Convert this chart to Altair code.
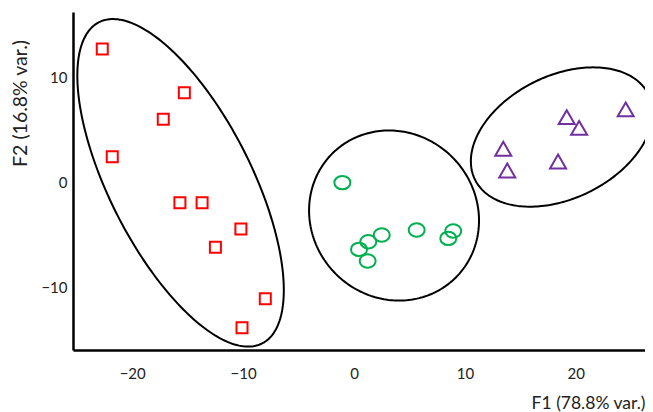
import altair as alt
import numpy as np
import pandas as pd

# --- data ---
sq_x = [-22.7, -15.3, -17.2, -21.8, -15.7, -13.7, -10.2, -12.5, -8.0, -10.1]
sq_y = [12.75, 8.58, 6.04, 2.47, -1.92, -1.92, -4.43, -6.17, -11.08, -13.85]

ci_x = [-1.05, 2.5, 1.29, 0.45, 1.23, 5.65, 8.95, 8.5]
ci_y = [0.0, -5.0, -5.64, -6.37, -7.48, -4.52, -4.62, -5.32]

tr_x = [19.18, 20.3, 24.5, 13.46, 13.82, 18.4]
tr_y = [6.25, 5.23, 6.99, 3.23, 1.16, 2.02]

# ellipse parameters: centre, semi-axes, rotation (deg)
ell_group = ["A", "B", "C"]
ell_cx = [-15.64, 3.61, 18.73]
ell_cy = [-0.02, -3.14, 4.35]
ell_a = [17.0, 8.21, 8.82]
ell_b = [6.47, 7.56, 5.79]
ell_ang = [-64.8, -67.1, 29.4]

x_ticks = [-20, -10, 0, 10, 20]
y_ticks = [-10, 0, 10]
x_title = "F1 (78.8% var.)"
y_title = "F2 (16.8% var.)"

# --- tables ---
pts = pd.concat([
    pd.DataFrame({"x": sq_x, "y": sq_y, "g": "sq"}),
    pd.DataFrame({"x": ci_x, "y": ci_y, "g": "ci"}),
    pd.DataFrame({"x": tr_x, "y": tr_y, "g": "tr"}),
], ignore_index=True)

rows = []
t = np.linspace(0, 2 * np.pi, 241)
for g, cx, cy, a, b, ang in zip(ell_group, ell_cx, ell_cy, ell_a, ell_b, ell_ang):
    th = np.deg2rad(ang)
    xs = cx + a * np.cos(th) * np.cos(t) - b * np.sin(th) * np.sin(t)
    ys = cy + a * np.sin(th) * np.cos(t) + b * np.cos(th) * np.sin(t)
    for i, (xx, yy) in enumerate(zip(xs, ys)):
        rows.append({"x": xx, "y": yy, "e": g, "i": i})
ell = pd.DataFrame(rows)

xdom = [-25.34, 26.24]
ydom = [-15.97, 16.28]

xenc = alt.X("x:Q", scale=alt.Scale(domain=xdom, nice=False, zero=False),
             axis=alt.Axis(values=x_ticks, title=x_title, grid=False, ticks=False,
                           domainColor="black", domainWidth=2.5,
                           labelFont="Lato", labelFontSize=15, labelColor="#222",
                           labelPadding=16,
                           titleFont="Lato", titleFontSize=17.5, titleFontWeight="normal",
                           titleColor="#222", titleAnchor="end", titleAlign="right",
                           titleX=572, titleY=58, titleBaseline="alphabetic"))
yenc = alt.Y("y:Q", scale=alt.Scale(domain=ydom, nice=False, zero=False),
             axis=alt.Axis(values=y_ticks, title=y_title, grid=False, ticks=False,
                           domainColor="black", domainWidth=2.5,
                           labelFont="Lato", labelFontSize=15, labelColor="#222",
                           labelPadding=6,
                           titleFont="Lato", titleFontSize=19.5, titleFontWeight="normal",
                           titleColor="#222", titleX=-53, titleY=91,
                           titleAlign="center", titleBaseline="middle", titleAngle=-90))

ellipses = alt.Chart(ell).mark_line(color="black", strokeWidth=2).encode(
    x=xenc, y=yenc, detail="e:N", order="i:Q")

sq = alt.Chart(pts[pts.g == "sq"]).mark_point(
    shape="square", size=121, filled=False, color="#ff0000", strokeWidth=2, opacity=1
).encode(x="x:Q", y="y:Q")

ci = alt.Chart(pts[pts.g == "ci"]).mark_point(
    shape="M-1,0A1,0.84,0,1,0,1,0A1,0.84,0,1,0,-1,0Z", size=256, filled=False,
    color="#00b050", strokeWidth=2, opacity=1
).encode(x="x:Q", y="y:Q")

tr = alt.Chart(pts[pts.g == "tr"]).mark_point(
    shape="triangle-up", size=256, filled=False, color="#7030a0", strokeWidth=2, opacity=1
).encode(x="x:Q", y="y:Q")

chart = alt.layer(ellipses, sq, ci, tr).properties(
    width=572, height=338,
    autosize=alt.AutoSizeParams(type="none"),
    padding={"left": 65, "top": 4, "right": 0, "bottom": 62},
).configure_view(stroke=None)

chart.save("out.html", embed_options={"renderer": "svg", "actions": False})
